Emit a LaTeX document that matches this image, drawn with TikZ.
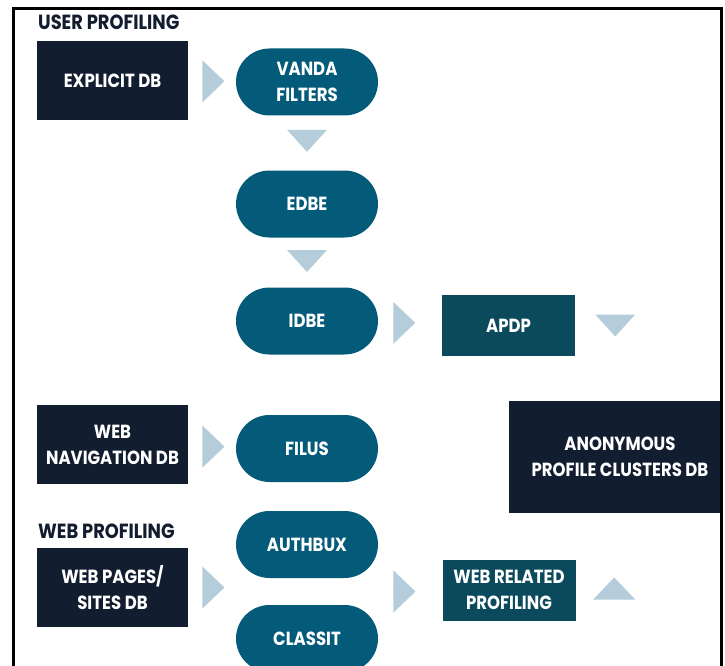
\documentclass[tikz,border=0pt]{standalone}
\usepackage{fontspec}
\newfontfamily\diagfont[FakeStretch=0.87]{Poppins}
\usetikzlibrary{shapes.misc,calc}
\definecolor{navy}{HTML}{131D30}
\definecolor{pillteal}{HTML}{045A79}
\definecolor{procteal}{HTML}{0A4A5C}
\definecolor{trifill}{HTML}{B5CDDA}
\tikzset{
  lbl/.style={font=\diagfont\bfseries\fontsize{19}{26}\selectfont, align=center, inner sep=0pt},
  dbbox/.style={lbl, rectangle, fill=navy, text=white, minimum width=151pt, minimum height=79pt},
  pill/.style={lbl, rounded rectangle, fill=pillteal, text=white, minimum width=142pt, minimum height=67pt},
  procbox/.style={lbl, rectangle, fill=procteal, text=white, minimum width=133pt, minimum height=61pt},
  heading/.style={lbl, text=navy, anchor=west, font=\diagfont\bfseries\fontsize{20.5}{26}\selectfont},
  rtri/.pic={\fill[trifill] (-11,21) -- (11,0) -- (-11,-21) -- cycle;},
  dtri/.pic={\fill[trifill] (-20,-11) -- (20,-11) -- (0,11) -- cycle;},
  utri/.pic={\fill[trifill] (-21,11) -- (21,11) -- (0,-11) -- cycle;},
}
\begin{document}
\begin{tikzpicture}[x=1pt,y=-1pt]
\useasboundingbox (0,0) rectangle (725,666);
\clip (0,0) rectangle (725,666);
\fill[white] (0,0) rectangle (725,666);

% headings
\node[heading] (uphead) at (38,22) {USER PROFILING};
\node[heading] (wphead) at (38,531) {WEB PROFILING};

% left column
\node[dbbox] (expl) at (112.5,80.5) {EXPLICIT DB};
\node[dbbox] (webnav) at (112.5,444.5) {WEB\\NAVIGATION DB};
\node[dbbox] (webpages) at (112.5,587.5) {WEB PAGES/\\SITES DB};

% middle column
\node[pill] (vanda) at (307,82) {VANDA\\FILTERS};
\node[pill] (edbe) at (307,204) {EDBE};
\node[pill] (idbe) at (307,321) {IDBE};
\node[pill] (filus) at (307,448.5) {FILUS};
\node[pill] (authbux) at (307,544.5) {AUTHBUX};
\node[pill] (classit) at (307,638.5) {CLASSIT};

% right column
\node[procbox] (apdp) at (508.5,325.5) {APDP};
\node[procbox] (webrel) at (509,590) {WEB RELATED\\PROFILING};
\begin{scope}
\clip (0,0) rectangle (721,666);
\node[dbbox, minimum width=222pt, minimum height=112pt] (anon) at (620,457) {ANONYMOUS\\PROFILE CLUSTERS DB};
\end{scope}

% triangle connectors
\path ($(expl.east)!0.53!(vanda.west)$) pic {rtri};
\path ($(vanda.south)!0.46!(edbe.north)$) pic {dtri};
\path ($(edbe.south)!0.47!(idbe.north)$) pic {dtri};
\path ($(idbe.east)!0.41!(apdp.west)$) pic {rtri};
\path ($(apdp.east)+(40,0)$) pic {dtri};
\path ($(webnav.east)!0.53!(filus.west)$) pic {rtri};
\path ($(webpages.east)!0.53!(webpages.east-|authbux.west)$) pic {rtri};
\coordinate (midac) at ($(authbux.east)!0.5!(classit.east)$);
\path ($(midac)!0.41!(midac-|webrel.west)$) pic {rtri};
\path ($(webrel.east)+(38.5,-1.5)$) pic {utri};

% frame
\draw[line width=3pt] (13,9) rectangle (721,700);
\end{tikzpicture}
\end{document}
